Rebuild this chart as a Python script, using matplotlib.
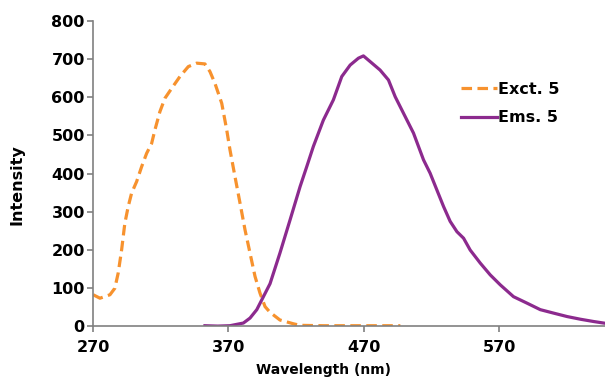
import matplotlib
matplotlib.use("Agg")
import matplotlib.pyplot as plt

# Excitation spectrum (dashed)
exct_wl = [270, 275, 282.4, 286, 288.5, 291, 293.4, 295.9, 298.4, 302.1, 305.8, 309.5,
           313.2, 315.6, 319.3, 323, 328, 334.1, 340.3, 346.5, 352.6, 356.3, 360, 365,
           368.7, 371.1, 374.8, 378.5, 382.2, 385.9, 389.6, 393.3, 397, 400.7, 408,
           418, 423, 440, 460, 480, 497]
exct_int = [83, 74, 83, 100, 140, 200, 270, 314, 349, 379, 418, 453,
            479, 514, 562, 597, 623, 654, 680, 689, 687, 667, 636, 584,
            514, 462, 392, 323, 253, 192, 131, 87, 52, 37, 17,
            7, 3, 2, 2, 2, 2]

# Emission spectrum (solid)
ems_wl = [352.6, 362, 371, 381, 385.9, 390.9, 395.8, 400.7, 408, 415.5, 422.9, 427.8,
          432.7, 440.1, 447.5, 453.7, 459.9, 466, 469.7, 474.7, 482, 488.2, 493.2,
          499.3, 506.7, 514.1, 519, 524, 528.9, 533.8, 538.8, 543.7, 548.6, 556,
          563.4, 570.8, 580.6, 590.6, 600.4, 610.2, 620.2, 630, 639.8, 647.2]
ems_int = [2, 1, 2, 9, 22, 44, 78, 112, 192, 279, 366, 418,
           471, 540, 593, 654, 684, 702, 708, 693, 671, 645, 601,
           558, 506, 436, 401, 357, 314, 275, 248, 231, 200, 166,
           135, 109, 78, 61, 44, 35, 26, 19, 13, 9]

x_ticks = [270, 370, 470, 570]
y_ticks = [0, 100, 200, 300, 400, 500, 600, 700, 800]

plt.rcParams['font.family'] = ['DejaVu Sans']
FS = 11.5

fig = plt.figure(figsize=(6.05, 3.77), dpi=100)
ax = fig.add_axes([0.154, 0.134, 0.85, 0.811])

orange = '#F7922E'
purple = '#8C2A8E'

ax.plot(exct_wl, exct_int, color=orange, lw=2.3, linestyle=(0, (3.3, 1.7)),
        label='Exct. 5')
ax.plot(ems_wl, ems_int, color=purple, lw=2.3, label='Ems. 5')

ax.set_xlim(270, 650)
ax.set_ylim(0, 800)
ax.set_xticks(x_ticks)
ax.set_yticks(y_ticks)

for s in ['top', 'right']:
    ax.spines[s].set_visible(False)
for s in ['left', 'bottom']:
    ax.spines[s].set_color('#808080')
    ax.spines[s].set_linewidth(1.2)

ax.tick_params(axis='both', colors='#808080', labelcolor='black', length=4,
               width=1.2, labelsize=FS)
ax.tick_params(axis='x', pad=6)
ax.tick_params(axis='y', pad=2)
for lbl in ax.get_xticklabels() + ax.get_yticklabels():
    lbl.set_fontweight('bold')

ax.set_xlabel('Wavelength (nm)', fontsize=10, fontweight='bold')
ax.set_ylabel('Intensity', fontsize=FS, fontweight='bold')
ax.xaxis.set_label_coords(0.447, -0.12)
ax.yaxis.set_label_coords(-0.133, 0.463)

leg = ax.legend(loc='upper left', bbox_to_anchor=(0.716, 0.80), frameon=False,
                fontsize=FS, handlelength=2.2, handletextpad=0.1,
                labelspacing=0.85, borderpad=0, borderaxespad=0)
for t in leg.get_texts():
    t.set_fontweight('bold')

fig.savefig('out.png', dpi=100)
